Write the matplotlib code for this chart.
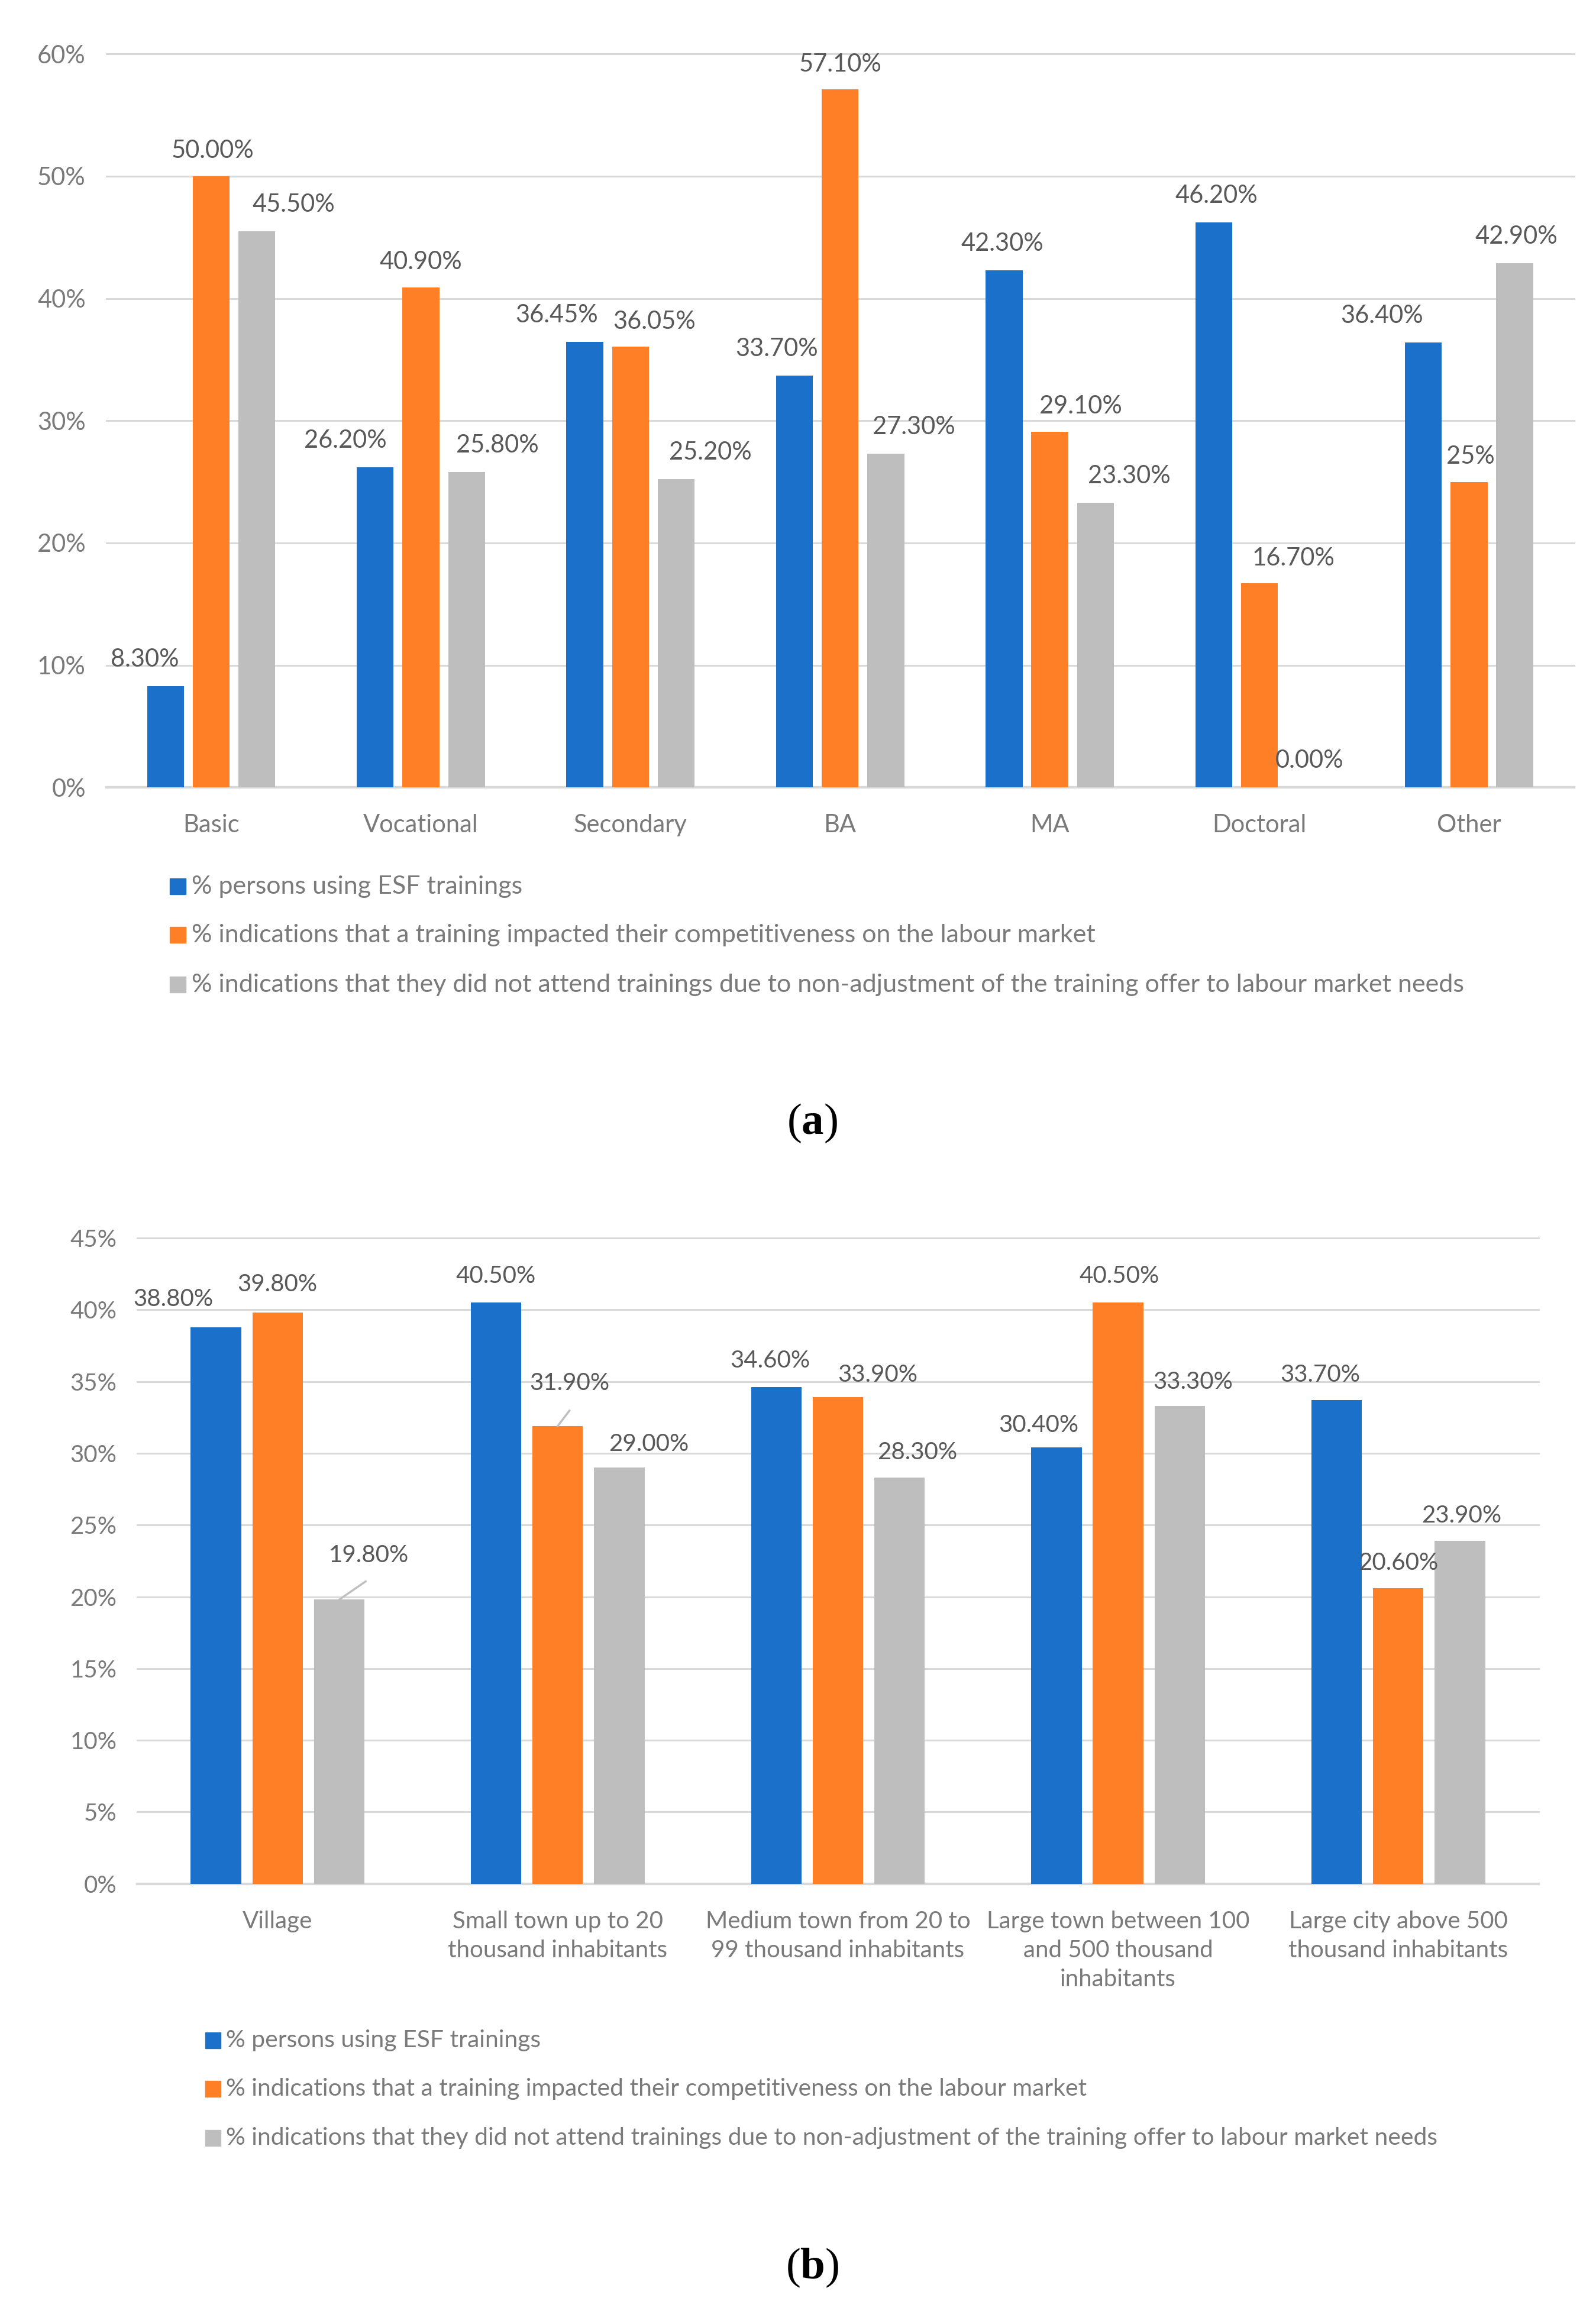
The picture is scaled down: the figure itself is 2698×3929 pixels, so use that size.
import matplotlib
matplotlib.use("Agg")
import matplotlib.pyplot as plt
from matplotlib.patches import Rectangle
import numpy as np

# ---------------- data ----------------
cats_a = ["Basic", "Vocational", "Secondary", "BA", "MA", "Doctoral", "Other"]
esf_a = [8.30, 26.20, 36.45, 33.70, 42.30, 46.20, 36.40]
impact_a = [50.00, 40.90, 36.05, 57.10, 29.10, 16.70, 25.00]
notattend_a = [45.50, 25.80, 25.20, 27.30, 23.30, 0.00, 42.90]
labels_a = [["8.30%", "50.00%", "45.50%"], ["26.20%", "40.90%", "25.80%"],
            ["36.45%", "36.05%", "25.20%"], ["33.70%", "57.10%", "27.30%"],
            ["42.30%", "29.10%", "23.30%"], ["46.20%", "16.70%", "0.00%"],
            ["36.40%", "25%", "42.90%"]]
yticks_a = [0, 10, 20, 30, 40, 50, 60]

cats_b = ["Village", "Small town up to 20\nthousand inhabitants",
          "Medium town from 20 to\n99 thousand inhabitants",
          "Large town between 100\nand 500 thousand\ninhabitants",
          "Large city above 500\nthousand inhabitants"]
esf_b = [38.80, 40.50, 34.60, 30.40, 33.70]
impact_b = [39.80, 31.90, 33.90, 40.50, 20.60]
notattend_b = [19.80, 29.00, 28.30, 33.30, 23.90]
yticks_b = [0, 5, 10, 15, 20, 25, 30, 35, 40, 45]

series_names = ["% persons using ESF trainings",
                "% indications that a training impacted their competitiveness on the labour market",
                "% indications that they did not attend trainings due to non-adjustment of the training offer to labour market needs"]

# ---------------- style ----------------
colors = ["#1B71C9", "#FE7F26", "#BEBEBE"]
grid_c = "#D9D9D9"
tick_c = "#7A7A7A"
lab_c = "#595959"
FONT = "Lato"
FS_A = 30
FS_LEG_A = 31
FS_B = 29
FS_LEG_B = 29.4

W, H = 2698, 3929
S = W / 1080.0  # display -> full pixel scale

fig = plt.figure(figsize=(W / 100, H / 100), dpi=100)

def fx(xd):
    return xd / 1080.0

def fy(yd):
    return 1 - yd / 1573.0

# label offsets (display px) -- layout only
dx_a = [[-14, 1, 25], [-20, 0, 21], [-19, 16, 23], [-12, 0, 19], [-1, 21, 23], [2, 23, 3], [-28, 1, 1]]
dx_b = [[-29, 0, 20], [0, 8, 20], [-4, 27, 12], [-12, 1, 9], [-11, 0, 1]]
dy_b = [[19, 19, 30], [18, 29, 16], [18, 15, 17], [15, 18, 16], [17, 17, 17]]
leaders_b = {(0, 2): (18, 20), (1, 1): (8, 17)}


def draw_chart(ax, cats, series, ylim, yticks, width, step, dxs, dys, label_fmt, leaders, fs):
    n = len(cats)
    x = np.arange(n)
    ax.set_xlim(-0.5, n - 0.5)
    ax.set_ylim(0, ylim)
    for s, vals in enumerate(series):
        xs = x + (s - 1) * step
        ax.bar(xs, vals, width=width, color=colors[s], zorder=3)
        for i, v in enumerate(vals):
            dx = dxs[i][s] * S
            dy = dys[i][s] * S
            ax.annotate(label_fmt[i][s], xy=(xs[i], v), xytext=(dx, dy),
                        textcoords="offset pixels", ha="center", va="center",
                        fontsize=fs, color=lab_c, family=FONT, annotation_clip=False, zorder=5)
            if (i, s) in leaders:
                lx, ly = leaders[(i, s)]
                ax.annotate("", xy=(xs[i], v), xytext=(lx * S, ly * S * 0.62),
                            textcoords="offset pixels",
                            arrowprops=dict(arrowstyle="-", color="#BFBFBF", lw=2.5,
                                            shrinkA=0, shrinkB=0),
                            annotation_clip=False)
    for t in yticks:
        ax.axhline(t, color=grid_c, lw=2.2 if t else 3.2, zorder=1, clip_on=False)
    ax.set_yticks(yticks)
    ax.set_yticklabels([f"{t}%" for t in yticks], fontsize=fs, color=tick_c, family=FONT)
    ax.tick_params(axis="y", length=0, pad=14 * S * 0.72)
    ax.set_xticks(x)
    ax.set_xticklabels([])
    for sp in ax.spines.values():
        sp.set_visible(False)
    ax.tick_params(axis="x", length=0)
    return x


# ---------------- chart (a) ----------------
ax_a = fig.add_axes([fx(72), fy(533), fx(1065) - fx(72), fy(36.5) - fy(533)])
x_a = draw_chart(ax_a, cats_a, [esf_a, impact_a, notattend_a], 60, yticks_a,
                 0.176, 0.218, dx_a, [[18, 17, 18]] * 7, labels_a, {}, FS_A)
for i, c in enumerate(cats_a):
    ax_a.annotate(c, xy=(i, 0), xycoords=("data", "axes fraction"), xytext=(0, -25.5 * S),
                  textcoords="offset pixels", ha="center", va="center",
                  fontsize=FS_A, color=tick_c, family=FONT, annotation_clip=False)

# ---------------- chart (b) ----------------
labels_b = [[f"{v:.2f}%" for v in (a, b, c)] for a, b, c in zip(esf_b, impact_b, notattend_b)]
ax_b = fig.add_axes([fx(93), fy(1275), fx(1041) - fx(93), fy(838) - fy(1275)])
x_b = draw_chart(ax_b, cats_b, [esf_b, impact_b, notattend_b], 45, yticks_b,
                 0.18, 0.22, dx_b, dy_b, labels_b, leaders_b, FS_B)
for i, c in enumerate(cats_b):
    ax_b.annotate(c, xy=(i, 0), xycoords=("data", "axes fraction"), xytext=(0, -18 * S),
                  textcoords="offset pixels", ha="center", va="top", linespacing=1.4,
                  fontsize=FS_B, color=tick_c, family=FONT, annotation_clip=False)

# ---------------- legends ----------------
def legend(xsq, xtxt, ys, fs):
    for k, yd in enumerate(ys):
        fig.patches.append(Rectangle((fx(xsq), fy(yd + 5.3)), fx(10.5), fy(0) - fy(10.8),
                                     transform=fig.transFigure, color=colors[k]))
        fig.text(fx(xtxt), fy(yd), series_names[k], ha="left", va="center",
                 fontsize=fs, color=tick_c, family=FONT)

legend(115, 129.5, [600, 633, 666.5], FS_LEG_A)
legend(139, 153, [1381, 1414, 1447], FS_LEG_B)

# ---------------- captions ----------------
plt.rcParams["mathtext.fontset"] = "custom"
plt.rcParams["mathtext.rm"] = "Liberation Serif"
plt.rcParams["mathtext.bf"] = "Liberation Serif:bold"
fig.text(fx(549.5), fy(760.5), r"($\mathbf{a}$)", ha="center", va="center",
         fontsize=54, family="Liberation Serif", color="black")
fig.text(fx(549.5), fy(1535), r"($\mathbf{b}$)", ha="center", va="center",
         fontsize=54, family="Liberation Serif", color="black")

fig.savefig("out.png", dpi=100, facecolor="white")
